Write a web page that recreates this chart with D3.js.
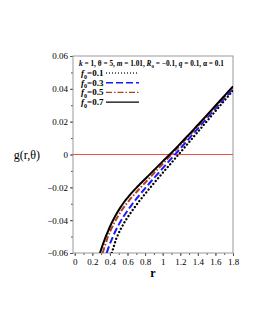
<!DOCTYPE html>
<html>
<head>
<meta charset="utf-8">
<script src="https://cdn.jsdelivr.net/npm/d3@7"></script>
<style>
    body { margin: 0; background: #fff; }
    svg { display: block; font-family: "Liberation Serif", "DejaVu Serif", serif; }
</style>
</head>
<body>
<svg id="mySVG" width="258" height="333"></svg>
<script>
// values
let f0Labels = ["0.1", "0.3", "0.5", "0.7"];

let r01 = [0.42, 0.445, 0.47, 0.495, 0.53, 0.56, 0.59, 0.64, 0.69, 0.74, 0.80, 0.855, 0.90, 0.95, 1.0, 1.1, 1.18, 1.3, 1.4, 1.5, 1.6, 1.7, 1.8];
let g01 = [-0.060, -0.0558, -0.0516, -0.0485, -0.0447, -0.0418, -0.0392, -0.0352, -0.0315, -0.028, -0.024, -0.0204, -0.0175, -0.0143, -0.0112, -0.005, 0.0, 0.0075, 0.0138, 0.0201, 0.0264, 0.0327, 0.039];

let r03 = [0.363, 0.39, 0.42, 0.45, 0.48, 0.51, 0.55, 0.60, 0.65, 0.70, 0.75, 0.80, 0.85, 0.90, 0.95, 1.05, 1.14, 1.2, 1.3, 1.4, 1.5, 1.6, 1.7, 1.8];
let g03 = [-0.060, -0.0558, -0.0518, -0.0481, -0.0448, -0.0418, -0.0382, -0.0342, -0.0305, -0.0271, -0.0238, -0.0206, -0.0175, -0.0144, -0.0114, -0.0054, 0.0, 0.0036, 0.0097, 0.0158, 0.0219, 0.028, 0.034, 0.040];

let r05 = [0.317, 0.34, 0.37, 0.40, 0.42, 0.46, 0.50, 0.534, 0.58, 0.62, 0.666, 0.70, 0.742, 0.80, 0.875, 0.95, 1.02, 1.10, 1.2, 1.3, 1.4, 1.5, 1.6, 1.7, 1.8];
let g05 = [-0.060, -0.0562, -0.0512, -0.0472, -0.0448, -0.0406, -0.0369, -0.034, -0.0306, -0.0279, -0.025, -0.023, -0.0205, -0.0172, -0.0129, -0.0086, -0.0046, 0.0, 0.0057, 0.0115, 0.0173, 0.0232, 0.0291, 0.035, 0.041];

let r07 = [0.287, 0.31, 0.344, 0.37, 0.40, 0.44, 0.477, 0.52, 0.552, 0.60, 0.647, 0.70, 0.742, 0.80, 0.836, 0.90, 1.00, 1.08, 1.2, 1.3, 1.4, 1.5, 1.6, 1.7, 1.8];
let g07 = [-0.060, -0.0563, -0.0512, -0.0478, -0.044, -0.0396, -0.036, -0.0322, -0.0297, -0.0264, -0.0234, -0.0203, -0.018, -0.0149, -0.013, -0.0096, -0.0042, 0.0, 0.0066, 0.0122, 0.018, 0.0238, 0.0297, 0.0356, 0.0415];

let xTicks = [0, 0.2, 0.4, 0.6, 0.8, 1, 1.2, 1.4, 1.6, 1.8];
let yTicks = [-0.06, -0.04, -0.02, 0, 0.02, 0.04, 0.06];

let svg = d3.select("#mySVG");
let mLeft = 73, mRight = 233, mTop = 56, mBottom = 253;

let x = d3.scaleLinear().domain([-0.02, 1.8]).range([mLeft, mRight]);
let y = d3.scaleLinear().domain([-0.06, 0.06]).range([mBottom, mTop]);

// axes
let xMinor = d3.range(0, 1.81, 0.1);
let yMinor = d3.range(-0.06, 0.0601, 0.01);

svg.append("g")
    .attr("transform", `translate(0,${mBottom})`)
    .call(d3.axisBottom(x).tickValues(xMinor).tickSize(2).tickFormat(""))
    .call(g => g.select(".domain").remove());
svg.append("g")
    .attr("transform", `translate(0,${mBottom})`)
    .call(d3.axisBottom(x).tickValues(xTicks).tickSize(3).tickPadding(3)
        .tickFormat(d => d3.format("")(+d.toFixed(1))))
    .call(g => g.select(".domain").remove())
    .call(g => g.selectAll("text").style("font-size", "9px").style("font-family", "Liberation Serif"));

svg.append("g")
    .attr("transform", `translate(${mLeft},0)`)
    .call(d3.axisLeft(y).tickValues(yMinor).tickSize(2).tickFormat(""))
    .call(g => g.select(".domain").remove());
svg.append("g")
    .attr("transform", `translate(${mLeft},0)`)
    .call(d3.axisLeft(y).tickValues(yTicks).tickSize(3).tickPadding(2)
        .tickFormat(d => Math.abs(d) < 1e-9 ? "0" : d3.format(".2f")(d).replace("-", "\u2212")))
    .call(g => g.select(".domain").remove())
    .call(g => g.selectAll("text").style("font-size", "9px").style("font-family", "Liberation Serif"));

svg.selectAll(".tick line").style("stroke", "#555");

// frame
svg.append("rect")
    .attr("x", mLeft).attr("y", mTop)
    .attr("width", mRight - mLeft).attr("height", mBottom - mTop)
    .style("fill", "none").style("stroke", "#999").style("stroke-width", 1);

// zero line
svg.append("line")
    .attr("x1", x(-0.02)).attr("x2", x(1.8))
    .attr("y1", y(0)).attr("y2", y(0))
    .style("stroke", "#e8504a").style("stroke-width", 1);

let series = [
    { r: r01, g: g01, color: "#000", dash: "0.1 3.6", cap: "round", w: 2.3 },
    { r: r03, g: g03, color: "#1a1aff", dash: "7 3", cap: "butt", w: 2 },
    { r: r05, g: g05, color: "#b0402a", dash: "6 2 1.5 2", cap: "butt", w: 2 },
    { r: r07, g: g07, color: "#000", dash: null, cap: "butt", w: 2 }
];

let line = d3.line()
    .x(d => x(d[0]))
    .y(d => y(d[1]))
    .curve(d3.curveMonotoneX);

svg.append("defs").append("clipPath").attr("id", "clip")
    .append("rect").attr("x", mLeft).attr("y", mTop).attr("width", mRight - mLeft).attr("height", mBottom - mTop);

svg.append("g").attr("clip-path", "url(#clip)")
    .selectAll(".curve")
    .data(series)
    .join("path")
    .classed("curve", true)
    .attr("d", s => line(d3.zip(s.r, s.g)))
    .style("fill", "none")
    .style("stroke", s => s.color)
    .style("stroke-width", s => s.w)
    .style("stroke-linecap", s => s.cap)
    .style("stroke-dasharray", s => s.dash);

// legend
let leg = svg.append("g").style("font-weight", "bold");
let head = leg.append("text")
    .attr("x", 79).attr("y", 66)
    .style("font-size", "7.3px");
let parts = [
    ["k", true], [" = 1, ", false], ["\u03b8", false], [" = 5, ", false], ["m", true], [" = 1.01, ", false],
    ["R", true], ["0", false, true], [" = \u22120.1, ", false], ["q", true], [" = 0.1, ", false], ["\u03b1", false], [" = 0.1", false]
];
parts.forEach((p, i) => {
    let prevSub = i > 0 && parts[i - 1][2];
    head.append("tspan")
        .text(p[0])
        .style("font-style", p[1] ? "italic" : "normal")
        .style("font-size", p[2] ? "5px" : null)
        .attr("dy", p[2] ? 1.5 : (prevSub ? -1.5 : 0));
});

series.forEach((s, i) => {
    let ly = 76 + i * 9.7;
    let t = leg.append("text").attr("x", 81).attr("y", ly).style("font-size", "9px");
    t.append("tspan").text("f").style("font-style", "italic");
    t.append("tspan").text("0").style("font-size", "6px").attr("dy", 2.5);
    t.append("tspan").text("=" + f0Labels[i]).attr("dy", -2.5);
    leg.append("line")
        .attr("x1", 106).attr("x2", 139)
        .attr("y1", ly - 3).attr("y2", ly - 3)
        .style("stroke", s.color)
        .style("stroke-width", 1.4)
        .style("stroke-dasharray", i == 0 ? "0.8 2.2" : s.dash)
        .style("stroke-linecap", "butt");
});

// axis titles
svg.append("text")
    .attr("x", 27).attr("y", 159)
    .attr("text-anchor", "middle")
    .style("font-size", "12px")
    .text("g(r,\u03b8)");
svg.append("text")
    .attr("x", 153).attr("y", 277)
    .attr("text-anchor", "middle")
    .style("font-size", "12px")
    .style("font-weight", "bold")
    .text("r");
</script>
</body>
</html>
